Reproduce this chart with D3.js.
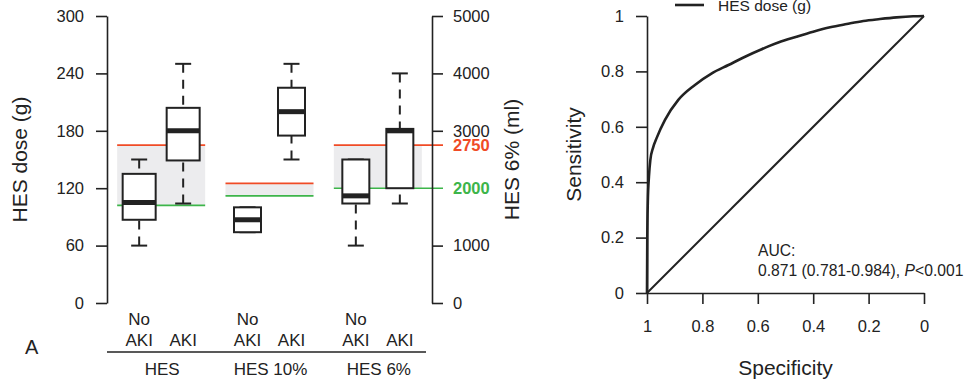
<!DOCTYPE html>
<meta charset="utf-8">
<style>
body { margin: 0; background: #fff; }
svg { font-family: "Liberation Sans", Arial, sans-serif; }
.axis path, .axis line { stroke: #222; stroke-width: 1.6px; fill: none; }
.axis text { font-size: 16.5px; fill: #222; font-family: "Liberation Sans", Arial, sans-serif; }
.lbl { font-size: 17px; fill: #222; }
.title { font-size: 21px; fill: #222; }
</style>
<body>
<div id="chart"></div>
<script src="https://cdn.jsdelivr.net/npm/d3@7"></script>
<script>
// ---- data ----
var groups = ["HES", "HES 10%", "HES 6%"];
var outcomes = ["No AKI", "AKI"];
var boxGroup   = ["HES", "HES", "HES 10%", "HES 10%", "HES 6%", "HES 6%"];
var boxOutcome = ["No AKI", "AKI", "No AKI", "AKI", "No AKI", "AKI"];
var whiskLow   = [60, 104, 74, 150, 60, 104];
var q1         = [87, 149, 74, 175, 104, 120];
var median     = [105, 180, 87, 200, 112, 180];
var q3         = [135, 204, 100, 225, 150, 182];
var whiskHigh  = [150, 250, 100, 250, 150, 240];
var refHigh = [165, 125, 165];   // g
var refLow  = [102, 112, 120];   // g
var leftTicks = [0, 60, 120, 180, 240, 300];
var rightTicks = [0, 1000, 3000, 4000, 5000];
var mlMarks = [2750, 2000];

var rocSpec = [1, 0.999, 0.997, 0.993, 0.988, 0.978, 0.965, 0.935, 0.887, 0.827, 0.766, 0.706, 0.646,
               0.586, 0.526, 0.46, 0.4, 0.339, 0.279, 0.219, 0.159, 0.099, 0.039, 0];
var rocSens = [0, 0.2, 0.33, 0.42, 0.48, 0.525, 0.56, 0.625, 0.697, 0.751, 0.793, 0.823, 0.853,
               0.88, 0.904, 0.925, 0.943, 0.959, 0.971, 0.982, 0.989, 0.995, 0.999, 1];
var rocTicks = [0, 0.2, 0.4, 0.6, 0.8, 1];

var red = "#f04b26", green = "#3db54a", ink = "#222";

var svg = d3.select("#chart").append("svg")
    .attr("width", 964).attr("height", 382);

// ---- left panel: boxplots ----
var y = d3.scaleLinear().domain([0, 300]).range([303, 16]);
var y2 = d3.scaleLinear().domain([0, 5000]).range([303, 16]);
var xg = d3.scaleBand().domain(groups).range([107, 432]);
var xo = d3.scaleBand().domain(outcomes).range([-44, 44]);

// reference bands
groups.forEach(function(g, i) {
    var cx = xg(g) + xg.bandwidth() / 2;
    var x0 = cx - 44, x1 = cx + 44;
    var xEnd = (g === "HES 6%") ? 443 : x1;
    svg.append("rect")
        .attr("x", x0).attr("width", x1 - x0)
        .attr("y", y(refHigh[i])).attr("height", y(refLow[i]) - y(refHigh[i]))
        .attr("fill", "#ececee");
    svg.append("line").attr("x1", x0).attr("x2", xEnd)
        .attr("y1", y(refHigh[i])).attr("y2", y(refHigh[i]))
        .attr("stroke", red).attr("stroke-width", 1.6);
    svg.append("line").attr("x1", x0).attr("x2", xEnd)
        .attr("y1", y(refLow[i])).attr("y2", y(refLow[i]))
        .attr("stroke", green).attr("stroke-width", 1.6);
});

// boxes
boxGroup.forEach(function(g, i) {
    var cx = xg(g) + xg.bandwidth() / 2 + xo(boxOutcome[i]) + xo.bandwidth() / 2;
    var w = g === "HES" ? 33 : 27;
    var b = svg.append("g");
    if (whiskHigh[i] > q3[i]) {
        b.append("line").attr("x1", cx).attr("x2", cx)
            .attr("y1", y(whiskHigh[i])).attr("y2", y(q3[i]))
            .attr("stroke", ink).attr("stroke-width", 2).attr("stroke-dasharray", "9,7");
    }
    if (whiskLow[i] < q1[i]) {
        b.append("line").attr("x1", cx).attr("x2", cx)
            .attr("y1", y(whiskLow[i])).attr("y2", y(q1[i]))
            .attr("stroke", ink).attr("stroke-width", 2).attr("stroke-dasharray", "9,7");
    }
    [whiskHigh[i], whiskLow[i]].forEach(function(v) {
        b.append("line").attr("x1", cx - 8).attr("x2", cx + 8)
            .attr("y1", y(v)).attr("y2", y(v))
            .attr("stroke", ink).attr("stroke-width", 2);
    });
    b.append("rect")
        .attr("x", cx - w / 2).attr("width", w)
        .attr("y", y(q3[i])).attr("height", y(q1[i]) - y(q3[i]))
        .attr("fill", "#fff").attr("stroke", ink).attr("stroke-width", 2);
    b.append("line").attr("x1", cx - w / 2).attr("x2", cx + w / 2)
        .attr("y1", y(median[i])).attr("y2", y(median[i]))
        .attr("stroke", ink).attr("stroke-width", 5);
});

svg.append("g").attr("class", "axis")
    .attr("transform", "translate(107,0)")
    .call(d3.axisLeft(y).tickValues(leftTicks).tickSize(11).tickSizeOuter(0).tickPadding(12));

svg.append("g").attr("class", "axis")
    .attr("transform", "translate(432,0)")
    .call(d3.axisRight(y2).tickValues(rightTicks).tickFormat(d3.format("d"))
        .tickSize(11).tickSizeOuter(0).tickPadding(10));

mlMarks.forEach(function(v, i) {
    svg.append("text")
        .attr("x", 453).attr("y", y2(v)).attr("dy", "0.36em")
        .attr("font-size", 16.5).attr("font-weight", "bold")
        .attr("fill", i === 0 ? red : green)
        .text(v);
});

svg.append("text").attr("class", "title")
    .attr("transform", "translate(27," + (y.range()[0] + y.range()[1]) / 2 + ") rotate(-90)")
    .attr("text-anchor", "middle").text("HES dose (g)");
svg.append("text").attr("class", "title")
    .attr("transform", "translate(519," + (y.range()[0] + y.range()[1]) / 2 + ") rotate(-90)")
    .attr("text-anchor", "middle").text("HES 6% (ml)");

// category labels
groups.forEach(function(g) {
    var gc = xg(g) + xg.bandwidth() / 2;
    outcomes.forEach(function(o) {
        var cx = gc + xo(o) + xo.bandwidth() / 2;
        if (o === "No AKI") {
            svg.append("text").attr("class", "lbl").attr("x", cx).attr("y", 325)
                .attr("text-anchor", "middle").text("No");
        }
        svg.append("text").attr("class", "lbl").attr("x", cx).attr("y", 346)
            .attr("text-anchor", "middle").text("AKI");
    });
    svg.append("text").attr("class", "lbl").attr("x", gc + 1).attr("y", 375)
        .attr("text-anchor", "middle").text(g);
});
svg.append("line").attr("x1", 107).attr("x2", 426).attr("y1", 352).attr("y2", 352)
    .attr("stroke", ink).attr("stroke-width", 1.6);
svg.append("text").attr("x", 25).attr("y", 354).attr("font-size", 20).attr("fill", ink).text("A");

// ---- right panel: ROC ----
var sx = d3.scaleLinear().domain([1, 0]).range([647, 924]);
var sy = d3.scaleLinear().domain([0, 1]).range([293, 16]);

svg.append("g").attr("class", "axis")
    .attr("transform", "translate(0,293)")
    .call(d3.axisBottom(sx).tickValues(rocTicks).tickFormat(d3.format("")).tickSize(11).tickSizeOuter(0).tickPadding(16));
svg.append("g").attr("class", "axis")
    .attr("transform", "translate(647,0)")
    .call(d3.axisLeft(sy).tickValues(rocTicks).tickFormat(d3.format("")).tickSize(11).tickSizeOuter(0).tickPadding(12));

svg.append("line")
    .attr("x1", sx(1)).attr("y1", sy(0)).attr("x2", sx(0)).attr("y2", sy(1))
    .attr("stroke", ink).attr("stroke-width", 2);

var roc = rocSpec.map(function(s, i) { return [s, rocSens[i]]; });
svg.append("path").datum(roc)
    .attr("d", d3.line().x(function(d) { return sx(d[0]); }).y(function(d) { return sy(d[1]); })
        .curve(d3.curveMonotoneX))
    .attr("fill", "none").attr("stroke", ink).attr("stroke-width", 2.6);

svg.append("text").attr("class", "title")
    .attr("transform", "translate(581," + (sy.range()[0] + sy.range()[1]) / 2 + ") rotate(-90)")
    .attr("text-anchor", "middle").text("Sensitivity");
svg.append("text").attr("class", "title")
    .attr("x", (sx.range()[0] + sx.range()[1]) / 2).attr("y", 375)
    .attr("text-anchor", "middle").text("Specificity");

// legend
svg.append("line").attr("x1", 675).attr("x2", 704).attr("y1", 5).attr("y2", 5)
    .attr("stroke", ink).attr("stroke-width", 2.6);
svg.append("text").attr("x", 718).attr("y", 11).attr("font-size", 15.5).attr("fill", ink).text("HES dose (g)");

// AUC annotation
svg.append("text").attr("x", 758).attr("y", 256).attr("font-size", 15.7).attr("fill", ink).text("AUC:");
var auc = svg.append("text").attr("x", 758).attr("y", 276).attr("font-size", 15.7).attr("fill", ink);
auc.append("tspan").text("0.871 (0.781-0.984), ");
auc.append("tspan").attr("font-style", "italic").text("P");
auc.append("tspan").text("<0.001");
</script>
</body>
